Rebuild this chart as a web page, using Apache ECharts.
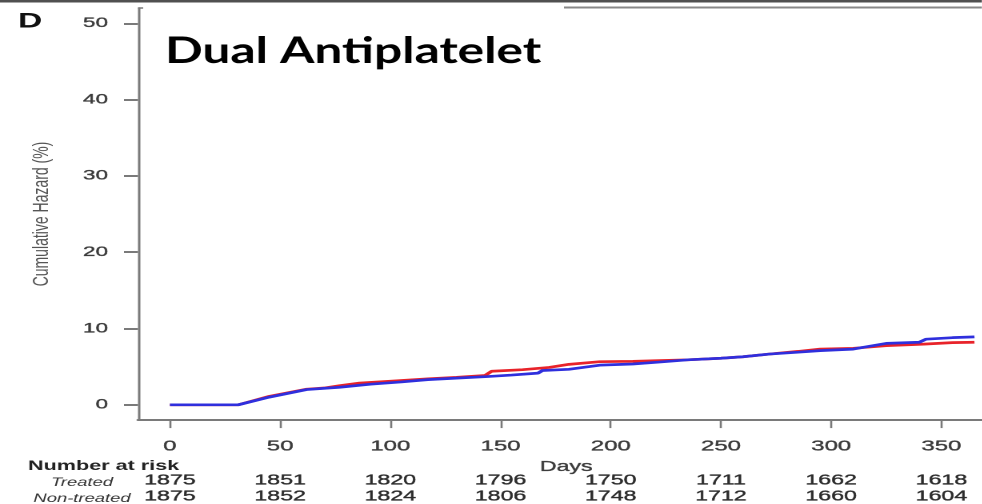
<!DOCTYPE html>
<html>
<head>
<meta charset="utf-8">
<script src="https://cdn.jsdelivr.net/npm/echarts@6/dist/echarts.min.js"></script>
<style>
  html, body { margin: 0; padding: 0; background: #fff; overflow: hidden; }
  #wrap { width: 982px; height: 504px; overflow: hidden; position: relative; }
  /* The figure is drawn at its native width and widened horizontally */
  #chart { width: 613.75px; height: 504px; transform: scaleX(1.6); transform-origin: 0 0; }
</style>
</head>
<body>
<div id="wrap"><div id="chart"></div></div>
<script>
// Cumulative hazard (%) by day, red curve
const redDays   = [0, 31, 45, 62, 70, 77, 86, 100, 117, 130, 143, 146, 160, 172, 181, 195, 210, 222, 235, 250, 260, 272, 285, 295, 310, 325, 342, 355, 365];
const redHazard = [0, 0, 1.1, 2.05, 2.2, 2.5, 2.85, 3.1, 3.4, 3.6, 3.85, 4.4, 4.6, 4.9, 5.3, 5.65, 5.7, 5.8, 5.9, 6.1, 6.3, 6.65, 7.0, 7.3, 7.4, 7.75, 7.95, 8.15, 8.2];

// Cumulative hazard (%) by day, blue curve
const blueDays   = [0, 31, 45, 62, 77, 91, 105, 117, 130, 144, 155, 167, 169, 181, 195, 210, 222, 235, 250, 260, 272, 285, 295, 310, 325, 340, 343, 355, 365];
const blueHazard = [0, 0, 1.0, 2.0, 2.3, 2.7, 3.0, 3.3, 3.5, 3.7, 3.9, 4.15, 4.5, 4.65, 5.2, 5.35, 5.6, 5.9, 6.1, 6.3, 6.65, 6.9, 7.1, 7.3, 8.05, 8.2, 8.6, 8.8, 8.9];

// Axis ticks
const dayTicks    = [0, 50, 100, 150, 200, 250, 300, 350];
const hazardTicks = [0, 10, 20, 30, 40, 50];

// Number at risk at each day tick
const treatedAtRisk    = [1875, 1851, 1820, 1796, 1750, 1711, 1662, 1618];
const nonTreatedAtRisk = [1875, 1852, 1824, 1806, 1748, 1712, 1660, 1604];

const SX = 1.6;            // horizontal stretch of the figure
const FONT = 'Liberation Sans, Arial, sans-serif';
const AXIS_GRAY = '#7a7a7a';
const LABEL_GRAY = '#3c3c3c';

const chart = echarts.init(document.getElementById('chart'), null, { renderer: 'canvas', devicePixelRatio: 2 });

function pairs(xs, ys) { return xs.map((x, i) => [x, ys[i]]); }

// slightly heavier strokes for the small figure text
function heavy(color) { return { textBorderColor: color, textBorderWidth: 0.35 }; }

function riskAxis(values, margin) {
  return {
    type: 'value', min: -14.5, max: 368.6, position: 'bottom',
    axisLine: { show: false }, axisTick: { show: false }, splitLine: { show: false },
    axisLabel: Object.assign({
      customValues: dayTicks, margin: margin, fontSize: 14.5, color: '#2c2c2c', fontFamily: FONT,
      formatter: v => String(values[dayTicks.indexOf(v)])
    }, heavy('#2c2c2c'))
  };
}

const option = {
  animation: false,
  backgroundColor: '#fff',
  grid: { left: 86.25, right: 0, top: 8, bottom: 81, containLabel: false },
  xAxis: [
    {
      type: 'value', min: -14.5, max: 368.6, position: 'bottom',
      axisLine: { onZero: false, lineStyle: { color: AXIS_GRAY, width: 2 } },
      axisTick: { customValues: dayTicks, length: 8, lineStyle: { color: AXIS_GRAY, width: 1.3 } },
      axisLabel: Object.assign({ customValues: dayTicks, margin: 19, fontSize: 15, color: LABEL_GRAY, fontFamily: FONT }, heavy(LABEL_GRAY)),
      splitLine: { show: false },
      name: 'Days', nameLocation: 'middle', nameGap: 35.5,
      nameTextStyle: Object.assign({ fontSize: 14.5, color: LABEL_GRAY, fontFamily: FONT, padding: [0, 0, 0, 7.5] }, heavy(LABEL_GRAY))
    },
    riskAxis(treatedAtRisk, 52.75),
    riskAxis(nonTreatedAtRisk, 68.75)
  ],
  yAxis: {
    type: 'value', min: -2, max: 52,
    axisLine: { onZero: false, lineStyle: { color: AXIS_GRAY, width: 1.5 } },
    axisTick: { customValues: hazardTicks, length: 8.75, lineStyle: { color: AXIS_GRAY, width: 2 } },
    axisLabel: Object.assign({ customValues: hazardTicks, margin: 18.75, fontSize: 14, color: LABEL_GRAY, fontFamily: FONT }, heavy(LABEL_GRAY)),
    splitLine: { show: false },
    name: 'Cumulative Hazard (%)', nameLocation: 'middle', nameGap: 53,
    nameTextStyle: { fontSize: 14, color: '#555', fontFamily: FONT }
  },
  series: [
    {
      type: 'line', name: 'Red', xAxisIndex: 0, data: pairs(redDays, redHazard),
      showSymbol: false, lineStyle: { color: '#e8232a', width: 2.7 }, z: 3
    },
    {
      type: 'line', name: 'Blue', xAxisIndex: 0, data: pairs(blueDays, blueHazard),
      showSymbol: false, lineStyle: { color: '#2f2fdd', width: 2.7 }, z: 4
    }
  ],
  graphic: [
    { type: 'rect', shape: { x: 0, y: 0, width: 613.75, height: 2.5 }, style: { fill: '#505050' }, silent: true },
    { type: 'line', shape: { x1: 86.25, y1: 8, x2: 89.5, y2: 8 }, style: { stroke: AXIS_GRAY, lineWidth: 1.5 }, silent: true },
    { type: 'line', shape: { x1: 352.5, y1: 7.5, x2: 613.75, y2: 7.5 }, style: { stroke: '#888', lineWidth: 2 }, silent: true },
    {
      type: 'text', x: 11.25, y: 21.5, silent: true,
      style: { text: 'D', fontSize: 21, fontWeight: 'bold', fontFamily: FONT, fill: '#111', align: 'left', verticalAlign: 'middle' }
    },
    {
      // title is kept at its natural proportions inside the widened figure
      type: 'text', x: 103.1, y: 51, scaleX: 0.85, silent: true,
      style: { text: 'Dual Antiplatelet', fontSize: 36.5, fontWeight: 'bold', fontFamily: 'Lato, sans-serif', fill: '#000', align: 'left', verticalAlign: 'middle' }
    },
    {
      type: 'text', x: 17.5, y: 466.5, silent: true,
      style: { text: 'Number at risk', fontSize: 13.5, fontWeight: 'bold', fontFamily: FONT, fill: '#222', align: 'left', verticalAlign: 'middle' }
    },
    {
      type: 'text', x: 51.25, y: 483, silent: true,
      style: { text: 'Treated', fontSize: 11.5, fontStyle: 'italic', fontFamily: FONT, fill: '#333', align: 'center', verticalAlign: 'middle' }
    },
    {
      type: 'text', x: 51.25, y: 499, silent: true,
      style: { text: 'Non-treated', fontSize: 11.5, fontStyle: 'italic', fontFamily: FONT, fill: '#333', align: 'center', verticalAlign: 'middle' }
    }
  ]
};

chart.setOption(option);
</script>
</body>
</html>
